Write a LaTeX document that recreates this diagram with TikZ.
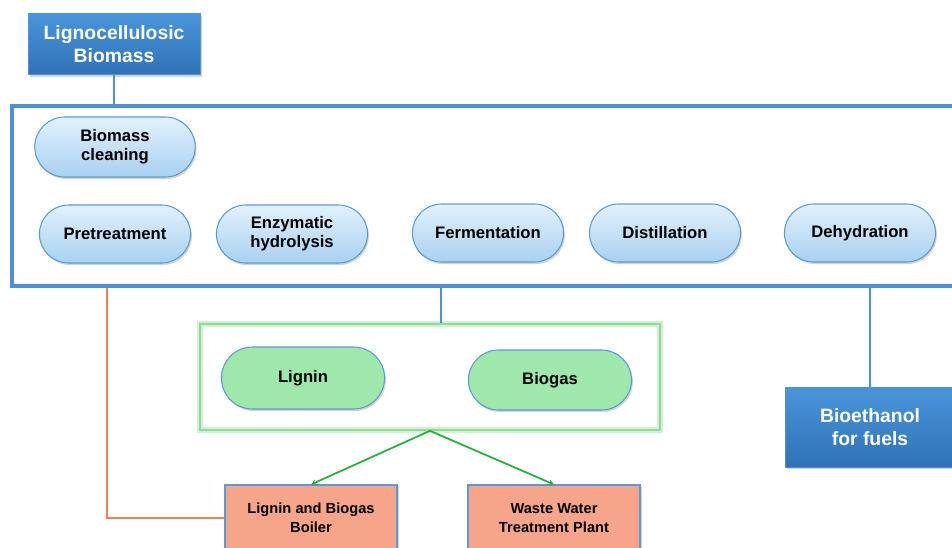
\documentclass[tikz,border=0pt]{standalone}
\usepackage{fontspec}
\setmainfont{Liberation Sans}
\usetikzlibrary{shapes.misc,shadows,arrows.meta}

\definecolor{frameblue}{HTML}{4F8FD6}
\definecolor{pilltop}{HTML}{E2F1FC}
\definecolor{pillbot}{HTML}{A8D1F1}
\definecolor{pillline}{HTML}{5B9BD5}
\definecolor{darkblue}{HTML}{2F72B8}
\definecolor{lightblue}{HTML}{4A95DA}
\definecolor{pillgreen}{HTML}{9FE8AC}
\definecolor{framegreen}{HTML}{8EDC96}
\definecolor{salmon}{HTML}{F6A58B}
\definecolor{arrowgreen}{HTML}{22B03A}
\definecolor{orangeline}{HTML}{F08060}

\begin{document}
\begin{tikzpicture}[x=0.75pt, y=-0.75pt,
  pill/.style={rounded rectangle, draw=pillline, line width=0.8pt, top color=pilltop, bottom color=pillbot,
    minimum width=120pt, minimum height=43.5pt, align=center, font=\fontsize{12.5}{14}\selectfont\bfseries,
    drop shadow={opacity=0.35, shadow xshift=1pt, shadow yshift=-1.5pt}},
  greenpill/.style={pill, top color=pillgreen, bottom color=pillgreen},
  bluebox/.style={draw=frameblue, line width=0.6pt, top color=lightblue, bottom color=darkblue, text=white, align=center,
    font=\fontsize{14.5}{17}\selectfont\bfseries, drop shadow={opacity=0.35, shadow xshift=1.5pt, shadow yshift=-1.5pt}},
  salmonbox/.style={draw=pillline, line width=0.8pt, fill=salmon, minimum width=129pt, minimum height=49.5pt, align=center,
    font=\fontsize{11}{14}\selectfont\bfseries, drop shadow={opacity=0.35, shadow xshift=1.5pt, shadow yshift=-1pt}},
  link/.style={draw=frameblue, line width=1.2pt},
  greenarrow/.style={draw=arrowgreen, line width=1.3pt, -{Stealth[length=4pt,width=4pt]}}]
\useasboundingbox (0,0) rectangle (952,547);

% frames
\node (proc)[draw=frameblue, line width=3pt, minimum width=718.5pt, minimum height=135pt] at (491,196) {};
\node (side)[draw=framegreen, line width=1.2pt, minimum width=345pt, minimum height=79.5pt,
  preaction={draw=framegreen!40, line width=4pt}] at (430,377) {};

% boxes
\node (ligno)[bluebox, minimum width=129pt, minimum height=45.75pt] at (114,44) {Lignocellulosic\\Biomass};
\node (bioeth)[bluebox, minimum width=127.5pt, minimum height=60pt] at (870,427) {Bioethanol\\for fuels};

% process steps
\node (clean)[pill, minimum width=127pt, minimum height=45pt] at (115,147) {Biomass\\cleaning};
\node (pre)[pill] at (115,234) {Pretreatment};
\node (enz)[pill] at (292,234) {Enzymatic\\hydrolysis};
\node (ferm)[pill] at (488,233) {Fermentation};
\node (dist)[pill] at (665,233) {Distillation};
\node (dehyd)[pill] at (860,233) {Dehydration};

% co-products
\node (lignin)[greenpill, minimum width=129pt, minimum height=46.5pt] at (303,378) {Lignin};
\node (biogas)[greenpill, minimum width=129pt, minimum height=45pt] at (550,380) {Biogas};

\node (boiler)[salmonbox] at (311,518) {Lignin and Biogas\\Boiler};
\node (wwtp)[salmonbox] at (554,518) {Waste Water\\Treatment Plant};

% connectors
\coordinate (c1) at (107,0);
\coordinate (c2) at (441,0);
\draw[link] (ligno.south) -- (ligno.south |- proc.north);
\draw[link] (proc.south -| c2) -- (side.north -| c2);
\draw[link] (proc.south -| bioeth.north) -- (bioeth.north);
\draw[draw=orangeline, line width=1.2pt] (proc.south -| c1) |- (boiler.west);
\draw[greenarrow] (side.south) -- (boiler.north);
\draw[greenarrow] (side.south) -- (wwtp.north);
\end{tikzpicture}
\end{document}
